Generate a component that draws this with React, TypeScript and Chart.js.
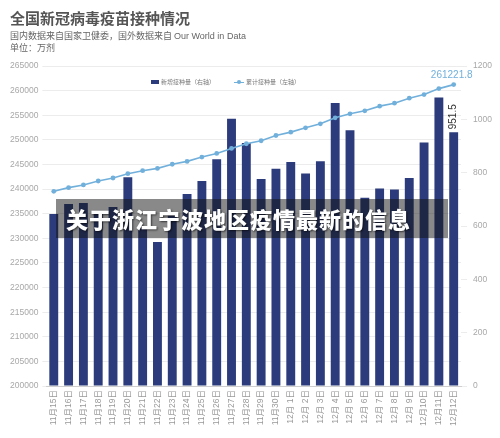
import { useEffect, useRef } from "react";
import { Chart, registerables } from "chart.js";

Chart.register(...registerables);

// 11/15 .. 12/12
const categories = [
  "11月15日", "11月16日", "11月17日", "11月18日", "11月19日", "11月20日", "11月21日",
  "11月22日", "11月23日", "11月24日", "11月25日", "11月26日", "11月27日", "11月28日",
  "11月29日", "11月30日", "12月 1日", "12月 2日", "12月 3日", "12月 4日", "12月 5日",
  "12月 6日", "12月 7日", "12月 8日", "12月 9日", "12月10日", "12月11日", "12月12日",
];

// 新增接种量 (right axis, 万剂)
const dailyDoses = [
  645, 683, 686, 655, 671, 783, 600, 540, 640, 720, 769, 850, 1002, 911,
  776, 815, 840, 797, 843, 1061, 959, 706, 741, 737, 780, 913, 1082, 951.5,
];

// 累计接种量 (left axis, 万剂)
const cumulativeDoses = [
  239550, 240300, 240850, 241650, 242260, 243130, 243740, 244210, 245050, 245630,
  246510, 247250, 248260, 249210, 249820, 250890, 251570, 252450, 253250, 254480,
  255290, 255900, 256850, 257450, 258470, 259200, 260410, 261221.8,
];

const BAR = "#2b3b7b";
const LINE = "#72b0dc";
const TICK = "#a8a8a8";
const GRID = "#ececec";
const FONT = "'Liberation Sans', Arial, 'Noto Sans CJK SC', sans-serif";

const plain = (v: string | number) => String(v);

const lastLabels = {
  id: "lastLabels",
  afterDatasetsDraw(chart: Chart) {
    const ctx = chart.ctx;
    const i = categories.length - 1;
    const bar: any = chart.getDatasetMeta(1).data[i];
    const pt: any = chart.getDatasetMeta(0).data[i];
    ctx.save();
    ctx.font = `10px ${FONT}`;
    // bar value, rotated
    ctx.fillStyle = "#333";
    ctx.translate(bar.x, bar.y - 3);
    ctx.rotate(-Math.PI / 2);
    ctx.textAlign = "left";
    ctx.textBaseline = "middle";
    ctx.fillText(String(dailyDoses[i]), 0, 0);
    ctx.restore();

    ctx.save();
    ctx.font = `10px ${FONT}`;
    ctx.fillStyle = LINE;
    ctx.textAlign = "center";
    ctx.textBaseline = "bottom";
    ctx.fillText(cumulativeDoses[i].toFixed(1), pt.x - 2, pt.y - 4);
    ctx.restore();
  },
};

export default function App() {
  const canvasRef = useRef<HTMLCanvasElement>(null);
  const chartRef = useRef<Chart | null>(null);

  useEffect(() => {
    document.body.style.margin = "0";
    if (!canvasRef.current) return;

    chartRef.current?.destroy();
    chartRef.current = new Chart(canvasRef.current, {
      type: "bar",
      data: {
        labels: categories,
        datasets: [
          {
            type: "line",
            label: "累计接种量（左轴）",
            data: cumulativeDoses,
            yAxisID: "yLeft",
            borderColor: LINE,
            backgroundColor: LINE,
            borderWidth: 1.6,
            pointRadius: 2.4,
            pointBorderWidth: 0,
            pointBackgroundColor: LINE,
            tension: 0,
            order: 0,
          },
          {
            type: "bar",
            label: "新增接种量（右轴）",
            data: dailyDoses,
            yAxisID: "yRight",
            backgroundColor: BAR,
            barPercentage: 0.6,
            categoryPercentage: 1,
            order: 1,
          },
        ] as any,
      },
      options: {
        animation: false,
        responsive: false,
        layout: { padding: { top: 66, left: 6, right: 2, bottom: 8 } },
        plugins: { legend: { display: false }, tooltip: { enabled: false } },
        scales: {
          x: {
            grid: { display: false, drawTicks: false },
            border: { color: "#cfcfcf" },
            ticks: {
              autoSkip: false,
              minRotation: 90,
              maxRotation: 90,
              color: "#999",
              font: { size: 8.5, family: FONT },
              padding: 4,
            },
          },
          yLeft: {
            position: "left",
            min: 200000,
            max: 265000,
            grid: { color: GRID, tickLength: 4 },
            border: { display: false },
            ticks: {
              stepSize: 5000,
              color: TICK,
              font: { size: 8.5, family: FONT },
              padding: 4,
              callback: plain,
            },
          },
          yRight: {
            position: "right",
            min: 0,
            max: 1200,
            grid: { drawOnChartArea: false, color: GRID, tickLength: 6 },
            border: { display: false },
            ticks: {
              stepSize: 200,
              color: TICK,
              font: { size: 8.5, family: FONT },
              padding: 6,
              callback: plain,
            },
          },
        },
      },
      plugins: [lastLabels],
    });

    return () => {
      chartRef.current?.destroy();
      chartRef.current = null;
    };
  }, []);

  const sub: React.CSSProperties = {
    position: "absolute",
    left: 10,
    fontSize: 9,
    lineHeight: 1,
    color: "#666",
    whiteSpace: "nowrap",
  };

  return (
    <div
      style={{
        position: "relative",
        width: 500,
        height: 438,
        background: "#fff",
        overflow: "hidden",
        fontFamily: "'Noto Sans CJK SC', 'Liberation Sans', sans-serif",
      }}
    >
      <canvas
        ref={canvasRef}
        width={500}
        height={438}
        style={{ position: "absolute", left: 0, top: 0, width: 500, height: 438 }}
      />
      <div
        style={{
          position: "absolute",
          left: 10,
          top: 10,
          fontSize: 15,
          lineHeight: 1,
          fontWeight: 700,
          color: "#555",
          whiteSpace: "nowrap",
        }}
      >
        全国新冠病毒疫苗接种情况
      </div>
      <div style={{ ...sub, top: 31 }}>
        国内数据来自国家卫健委，国外数据来自 <span style={{ fontFamily: "'Liberation Sans', sans-serif" }}>Our World in Data</span>
      </div>
      <div style={{ ...sub, top: 43 }}>单位：万剂</div>

      {/* legend */}
      <div
        style={{
          position: "absolute",
          left: 151,
          top: 79,
          display: "flex",
          alignItems: "center",
          fontSize: 6,
          lineHeight: 1,
          color: "#777",
          whiteSpace: "nowrap",
        }}
      >
        <span style={{ display: "inline-block", width: 8, height: 4, background: BAR, marginRight: 2 }} />
        <span>新增接种量（右轴）</span>
        <span style={{ position: "relative", display: "inline-block", width: 10, height: 6, marginLeft: 19, marginRight: 2 }}>
          <span style={{ position: "absolute", left: 0, top: 2.5, width: 10, height: 1, background: LINE }} />
          <span style={{ position: "absolute", left: 3, top: 1, width: 4, height: 4, borderRadius: 2, background: LINE }} />
        </span>
        <span>累计接种量（左轴）</span>
      </div>

      {/* overlay banner */}
      <div
        style={{
          position: "absolute",
          left: 56,
          top: 199,
          width: 392,
          height: 39,
          background: "rgba(20,20,20,0.5)",
        }}
      />
      <div
        style={{
          position: "absolute",
          left: 66,
          top: 207,
          fontSize: 22,
          lineHeight: 1,
          fontWeight: 900,
          letterSpacing: 1,
          color: "#fff",
          textShadow: "1px 1px 2px rgba(0,0,0,0.6)",
          whiteSpace: "nowrap",
        }}
      >
        关于浙江宁波地区疫情最新的信息
      </div>
    </div>
  );
}
